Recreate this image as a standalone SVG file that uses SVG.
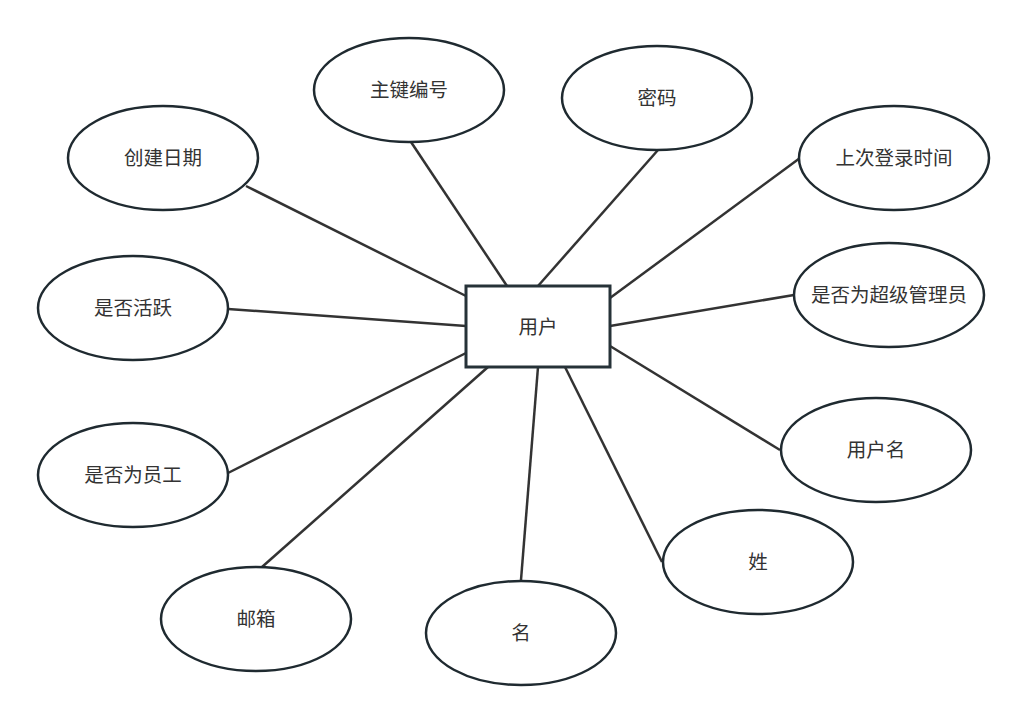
<svg xmlns="http://www.w3.org/2000/svg" width="1027" height="722" viewBox="0 0 1027 722">
<style>
.e{fill:#fff;stroke:#1f2a30;stroke-width:2.5}
.r{fill:#fff;stroke:#263238;stroke-width:3}
.c line{stroke:#333;stroke-width:2.5}
text{font-family:"Liberation Sans","Noto Sans CJK SC",sans-serif;font-size:19.5px;fill:#333;text-anchor:middle;dominant-baseline:central}
</style>
<rect width="1027" height="722" fill="#fff"/>
<g class="c" id="connectors">
<line x1="246" y1="186" x2="466" y2="296"/>
<line x1="411" y1="142" x2="507" y2="286"/>
<line x1="658" y1="150" x2="538" y2="286"/>
<line x1="800" y1="158" x2="610" y2="298"/>
<line x1="228" y1="309" x2="466" y2="326"/>
<line x1="794" y1="295" x2="610" y2="326"/>
<line x1="228" y1="473" x2="466" y2="353"/>
<line x1="780" y1="450" x2="610" y2="346"/>
<line x1="662" y1="562" x2="565" y2="367"/>
<line x1="262" y1="567" x2="488" y2="367"/>
<line x1="521" y1="580" x2="538" y2="367"/>
</g>
<g id="user"><rect class="r" x="466" y="286" width="144" height="81"/><text x="538" y="327">用户</text></g>
<g id="pk"><ellipse class="e" cx="409" cy="90" rx="95" ry="52"/><text x="409" y="90">主键编号</text></g>
<g id="password"><ellipse class="e" cx="657" cy="98" rx="95" ry="52"/><text x="657" y="98">密码</text></g>
<g id="created"><ellipse class="e" cx="163" cy="158" rx="95" ry="52"/><text x="163" y="158">创建日期</text></g>
<g id="lastlogin"><ellipse class="e" cx="894" cy="158" rx="95" ry="52"/><text x="894" y="158">上次登录时间</text></g>
<g id="active"><ellipse class="e" cx="133" cy="308" rx="95" ry="52"/><text x="133" y="308">是否活跃</text></g>
<g id="superuser"><ellipse class="e" cx="889" cy="295" rx="95" ry="52"/><text x="889" y="295">是否为超级管理员</text></g>
<g id="staff"><ellipse class="e" cx="133" cy="475" rx="95" ry="52"/><text x="133" y="475">是否为员工</text></g>
<g id="username"><ellipse class="e" cx="876" cy="450" rx="95" ry="52"/><text x="876" y="450">用户名</text></g>
<g id="lastname"><ellipse class="e" cx="758" cy="562" rx="95" ry="52"/><text x="758" y="562">姓</text></g>
<g id="email"><ellipse class="e" cx="256" cy="619" rx="95" ry="52"/><text x="256" y="619">邮箱</text></g>
<g id="firstname"><ellipse class="e" cx="521" cy="633" rx="95" ry="52"/><text x="521" y="633">名</text></g>
</svg>
